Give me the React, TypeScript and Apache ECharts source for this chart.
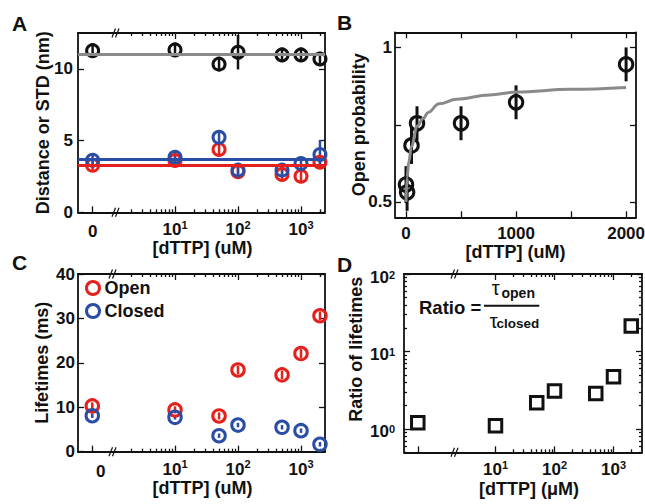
import React, { useEffect, useRef } from 'react';
import * as echarts from 'echarts';

const FONT = "'Liberation Sans', Arial, Helvetica, sans-serif";
const BLACK = '#111111';
const RED = '#e4211c';
const BLUE = '#2a4da6';
const GRAY = '#8a8a8a';

// shared concentrations [dTTP] (uM)
const dTTP = [0, 10, 50, 100, 500, 1000, 2000];

// Panel A: distance (black) and STD (red = open, blue = closed), nm
const distBlack = [11.27, 11.32, 10.33, 11.16, 10.97, 10.97, 10.69];
const distBlackErr = [0.5, 0.5, 0.5, 1.2, 0.5, 0.5, 0.5];
const stdRed = [3.28, 3.61, 4.38, 2.83, 2.64, 2.52, 3.49];
const stdRedErr = [0.45, 0.45, 0.45, 0.45, 0.45, 0.45, 0.45];
const stdBlue = [3.63, 3.84, 5.23, 2.94, 2.94, 3.4, 4.03];
const stdBlueErr = [0.45, 0.45, 0.45, 0.45, 0.45, 0.45, 1.0];
const fitBlack = 11.0;
const fitBlue = 3.73;
const fitRed = 3.31;

// Panel B: open probability
const openProb = [0.556, 0.531, 0.683, 0.755, 0.755, 0.823, 0.946];
const openProbErr = [0.06, 0.06, 0.06, 0.055, 0.055, 0.055, 0.055];
const fitCurveX = [0, 10, 25, 50, 100, 160, 200, 300, 460, 760, 1000, 1500, 2000];
const fitCurveY = [0.5, 0.58, 0.63, 0.68, 0.745, 0.772, 0.79, 0.818, 0.833, 0.847, 0.856, 0.865, 0.871];

// Panel C: lifetimes (ms)
const tauOpen = [10.3, 9.4, 8.04, 18.4, 17.3, 22.1, 30.6];
const tauOpenErr = [0.8, 0.8, 0.8, 1.0, 1.0, 1.0, 1.0];
const tauClosed = [8.1, 7.74, 3.6, 6.0, 5.5, 4.73, 1.67];
const tauClosedErr = [0.5, 0.5, 0.5, 0.5, 0.5, 0.5, 0.5];

// Panel D: ratio of lifetimes
const ratio = [1.2, 1.1, 2.18, 3.1, 2.88, 4.73, 21.3];

// ticks
const logMajorTicks = [10, 100, 1000];
const logMinorTicks = [2, 3, 4, 5, 6, 7, 8, 9, 20, 30, 40, 50, 60, 70, 80, 90, 200, 300, 400, 500, 600, 700, 800, 900, 2000];
const logMinorTicksD = [20, 30, 40, 50, 60, 70, 80, 90, 200, 300, 400, 500, 600, 700, 800, 900, 2000];
const distTicks = [0, 5, 10];
const probXTicks = [0, 500, 1000, 1500, 2000];
const probXLabels = [0, 1000, 2000];
const probYTicks = [0.5, 0.75, 1];
const probYLabels = [0.5, 1];
const lifeTicks = [0, 10, 20, 30, 40];
const ratioMajorTicks = [1, 10, 100];
const ratioMinorTicks = [0.5, 0.6, 0.7, 0.8, 0.9, 2, 3, 4, 5, 6, 7, 8, 9, 20, 30, 40, 50, 60, 70, 80, 90];

function buildOption() {
  const grid = [
    { left: 78, top: 33, width: 38, height: 179.3 }, // 0 A0
    { left: 116, top: 33, width: 209, height: 179.3 }, // 1 A1
    { left: 395, top: 32.3, width: 241, height: 185 }, // 2 B
    { left: 78, top: 274, width: 35, height: 177.7 }, // 3 C0
    { left: 113, top: 274, width: 212, height: 177.7 }, // 4 C1
    { left: 404, top: 274, width: 51, height: 178.3 }, // 5 D0
    { left: 455, top: 274, width: 187, height: 178.3 }, // 6 D1
  ].map((g) => ({ ...g, containLabel: false, outerBoundsMode: 'none' }));

  const axisLine = { show: true, onZero: false, lineStyle: { color: BLACK, width: 1.8 } };
  const noLine = { show: false, onZero: false };
  const tick = (values: number[], len: number) => ({
    show: true, inside: true, length: len, customValues: values,
    lineStyle: { color: BLACK, width: 1.3 },
  });
  const nameStyle = (pad: any = 0) => ({
    fontFamily: FONT, fontSize: 18, fontWeight: 'bold', color: BLACK, padding: pad,
  });
  const plainLabel = (values: number[], margin: number, extra: any = {}) => ({
    show: true, customValues: values, margin, fontFamily: FONT, fontSize: 17,
    fontWeight: 'bold', color: BLACK, formatter: (v: number) => String(v), ...extra,
  });
  const richX = {
    b: { fontFamily: FONT, fontSize: 17, fontWeight: 'bold', color: BLACK, lineHeight: 16, padding: [5, 0, 0, 0] },
    s: { fontFamily: FONT, fontSize: 11, fontWeight: 'bold', color: BLACK, lineHeight: 11, verticalAlign: 'top' },
  };
  const richY = {
    b: { fontFamily: FONT, fontSize: 17, fontWeight: 'bold', color: BLACK, lineHeight: 18, padding: [6, 0, 0, 0] },
    s: { fontFamily: FONT, fontSize: 11, fontWeight: 'bold', color: BLACK, lineHeight: 12, padding: [4, 0, 0, 0], verticalAlign: 'top' },
  };
  const powLabel = (values: number[], margin: number, rich: any) => ({
    show: true, customValues: values, margin, rich,
    formatter: (v: number) => `{b|10}{s|${Math.round(Math.log10(v))}}`,
  });

  const xAxis: any[] = [];
  const yAxis: any[] = [];
  const base = {
    splitLine: { show: false }, axisLabel: { show: false }, axisTick: { show: false },
    axisLine: noLine, nameMoveOverlap: false, axisPointer: { show: false },
  };
  const X = (cfg: any) => { xAxis.push({ ...base, ...cfg }); return xAxis.length - 1; };
  const Y = (cfg: any) => { yAxis.push({ ...base, ...cfg }); return yAxis.length - 1; };

  // log x axis group (bottom major with labels, bottom minor, top major, top minor)
  const logX = (gi: number, min: number, max: number, minor: number[], name: string, nameGap: number, padRight: number) => {
    const common = { type: 'log', logBase: 10, gridIndex: gi, min, max };
    const main = X({
      ...common, position: 'bottom', axisLine, axisTick: tick(logMajorTicks, 6),
      axisLabel: powLabel(logMajorTicks, 7, richX),
      name, nameLocation: 'middle', nameGap, nameTextStyle: nameStyle([0, padRight, 0, 0]),
    });
    X({ ...common, position: 'bottom', axisTick: tick(minor, 3) });
    X({ ...common, position: 'top', axisLine, axisTick: tick(logMajorTicks, 6) });
    X({ ...common, position: 'top', axisTick: tick(minor, 3) });
    return main;
  };

  // ---------- Panel A ----------
  const xA0 = X({
    type: 'value', gridIndex: 0, position: 'bottom', min: -1, max: 1.6, axisLine,
    axisTick: tick([0], 6), axisLabel: plainLabel([0], 11),
  });
  X({ type: 'value', gridIndex: 0, position: 'top', min: -1, max: 1.6, axisLine });
  const xA1 = logX(1, 1.157, 2404, logMinorTicks, '[dTTP] (uM)', 27, 36);
  const yA0 = Y({
    type: 'value', gridIndex: 0, position: 'left', min: 0, max: 12.5, axisLine,
    axisTick: tick(distTicks, 6), axisLabel: plainLabel(distTicks, 5),
    name: 'Distance or STD (nm)', nameLocation: 'middle', nameGap: 26, nameTextStyle: nameStyle(),
  });
  const yA1 = Y({
    type: 'value', gridIndex: 1, position: 'right', min: 0, max: 12.5, axisLine,
    axisTick: tick(distTicks, 6),
  });

  // ---------- Panel B ----------
  const xB = X({
    type: 'value', gridIndex: 2, position: 'bottom', min: -100, max: 2090, axisLine,
    axisTick: tick(probXTicks, 6), axisLabel: plainLabel(probXLabels, 8),
    name: '[dTTP] (uM)', nameLocation: 'middle', nameGap: 26, nameTextStyle: nameStyle(),
  });
  X({ type: 'value', gridIndex: 2, position: 'top', min: -100, max: 2090, axisLine, axisTick: tick(probXTicks, 6) });
  const yB = Y({
    type: 'value', gridIndex: 2, position: 'left', min: 0.45, max: 1.05, axisLine,
    axisTick: tick(probYTicks, 6), axisLabel: plainLabel(probYLabels, 3),
    name: 'Open probability', nameLocation: 'middle', nameGap: 27, nameTextStyle: nameStyle(),
  });
  Y({ type: 'value', gridIndex: 2, position: 'right', min: 0.45, max: 1.05, axisLine, axisTick: tick(probYTicks, 6) });

  // ---------- Panel C ----------
  const xC0 = X({
    type: 'value', gridIndex: 3, position: 'bottom', min: -1, max: 1.45, axisLine,
    axisTick: tick([0], 6), axisLabel: plainLabel([0], 11, { padding: [0, 0, 0, 17] }),
  });
  X({ type: 'value', gridIndex: 3, position: 'top', min: -1, max: 1.45, axisLine });
  const xC1 = logX(4, 1.037, 2404, logMinorTicks, '[dTTP] (uM)', 27, 33);
  const yC0 = Y({
    type: 'value', gridIndex: 3, position: 'left', min: 0, max: 40, axisLine,
    axisTick: tick(lifeTicks, 6), axisLabel: plainLabel(lifeTicks, 3),
    name: 'Lifetimes (ms)', nameLocation: 'middle', nameGap: 27, nameTextStyle: nameStyle(),
  });
  const yC1 = Y({
    type: 'value', gridIndex: 4, position: 'right', min: 0, max: 40, axisLine,
    axisTick: tick(lifeTicks, 6),
  });

  // ---------- Panel D ----------
  const xD0 = X({
    type: 'value', gridIndex: 5, position: 'bottom', min: -1, max: 2.7, axisLine,
    axisTick: tick([0], 6),
  });
  X({ type: 'value', gridIndex: 5, position: 'top', min: -1, max: 2.7, axisLine });
  const xD1 = logX(6, 2.06, 3040, logMinorTicksD, '[dTTP] (\u03bcM)', 28, 39);
  const yD0 = Y({
    type: 'log', logBase: 10, gridIndex: 5, position: 'left', min: 0.5, max: 100, axisLine,
    axisTick: tick(ratioMajorTicks, 6), axisLabel: powLabel(ratioMajorTicks, 9, richY),
    name: 'Ratio of lifetimes', nameLocation: 'middle', nameGap: 39,
    nameTextStyle: nameStyle([0, 0, 0, 28]),
  });
  Y({ type: 'log', logBase: 10, gridIndex: 5, position: 'left', min: 0.5, max: 100, axisTick: tick(ratioMinorTicks, 3) });
  const yD1 = Y({
    type: 'log', logBase: 10, gridIndex: 6, position: 'right', min: 0.5, max: 100, axisLine,
    axisTick: tick(ratioMajorTicks, 6),
  });
  Y({ type: 'log', logBase: 10, gridIndex: 6, position: 'right', min: 0.5, max: 100, axisTick: tick(ratioMinorTicks, 3) });

  // ---------- series helpers ----------
  const rows = (xs: number[], ys: number[], errs: number[] | null, zero: boolean) =>
    xs.map((c, i) => [c, ys[i], errs ? errs[i] : 0]).filter((r) => (r[0] === 0) === zero);

  const errSeries = (data: number[][], xi: number, yi: number, color: string, width: number) => ({
    type: 'custom', xAxisIndex: xi, yAxisIndex: yi, data, clip: false, silent: true,
    encode: { x: 0, y: 1 },
    renderItem: (_p: any, api: any) => {
      const x = api.value(0);
      const y = api.value(1);
      const e = api.value(2);
      const p1 = api.coord([x, y - e]);
      const p2 = api.coord([x, y + e]);
      return {
        type: 'line',
        shape: { x1: p1[0], y1: p1[1], x2: p2[0], y2: p2[1] },
        style: { stroke: color, lineWidth: width, lineCap: 'butt' },
      };
    },
  });
  const dotSeries = (name: string, data: number[][], xi: number, yi: number, color: string, symbol: string, size: number, bw: number) => ({
    type: 'scatter', name, xAxisIndex: xi, yAxisIndex: yi,
    data: data.map((r) => [r[0], r[1]]), symbol, symbolSize: size,
    itemStyle: { color: 'rgba(0,0,0,0)', borderColor: color, borderWidth: bw, opacity: 1 },
    silent: true, clip: false, emphasis: { disabled: true },
  });
  const fitLine = (value: number, xi: number, yi: number, color: string) => ({
    type: 'line', xAxisIndex: xi, yAxisIndex: yi, data: [], silent: true,
    markLine: {
      silent: true, symbol: 'none', label: { show: false }, animation: false,
      lineStyle: { color, width: 3, type: 'solid', opacity: 1 },
      emphasis: { disabled: true },
      data: [{ yAxis: value }],
    },
  });

  const series: any[] = [];
  // Panel A
  const aAxes: [number, number, boolean][] = [[xA0, yA0, true], [xA1, yA1, false]];
  aAxes.forEach(([xi, yi]) => {
    series.push(fitLine(fitBlack, xi, yi, GRAY));
    series.push(fitLine(fitBlue, xi, yi, BLUE));
    series.push(fitLine(fitRed, xi, yi, RED));
  });
  aAxes.forEach(([xi, yi, zero]) => {
    const blk = rows(dTTP, distBlack, distBlackErr, zero);
    const red = rows(dTTP, stdRed, stdRedErr, zero);
    const blu = rows(dTTP, stdBlue, stdBlueErr, zero);
    series.push(errSeries(blk, xi, yi, BLACK, 2.5));
    series.push(dotSeries('Distance', blk, xi, yi, BLACK, 'circle', 12, 3));
    series.push(errSeries(red, xi, yi, RED, 2.5));
    series.push(dotSeries('STD open', red, xi, yi, RED, 'circle', 12, 3));
    series.push(errSeries(blu, xi, yi, BLUE, 2.5));
    series.push(dotSeries('STD closed', blu, xi, yi, BLUE, 'circle', 12, 3));
  });

  // Panel B
  series.push({
    type: 'line', xAxisIndex: xB, yAxisIndex: yB, silent: true, smooth: 0.4, smoothMonotone: 'x',
    symbol: 'none', lineStyle: { color: GRAY, width: 3 },
    data: fitCurveX.map((x, i) => [x, fitCurveY[i]]),
  });
  const bRows = dTTP.map((c, i) => [c, openProb[i], openProbErr[i]]);
  series.push(errSeries(bRows, xB, yB, BLACK, 3));
  series.push(dotSeries('Open probability', bRows, xB, yB, BLACK, 'circle', 13.5, 3));

  // Panel C
  const cAxes: [number, number, boolean][] = [[xC0, yC0, true], [xC1, yC1, false]];
  cAxes.forEach(([xi, yi, zero]) => {
    const op = rows(dTTP, tauOpen, tauOpenErr, zero);
    const cl = rows(dTTP, tauClosed, tauClosedErr, zero);
    series.push(errSeries(op, xi, yi, RED, 2.5));
    series.push(dotSeries('Open', op, xi, yi, RED, 'circle', 12.5, 3));
    series.push(errSeries(cl, xi, yi, BLUE, 2.5));
    series.push(dotSeries('Closed', cl, xi, yi, BLUE, 'circle', 12.5, 3));
  });

  // Panel D
  const dAxes: [number, number, boolean][] = [[xD0, yD0, true], [xD1, yD1, false]];
  dAxes.forEach(([xi, yi, zero]) => {
    const r = rows(dTTP, ratio, null, zero);
    series.push(dotSeries('Ratio', r, xi, yi, BLACK, 'rect', 12.5, 3));
  });

  // ---------- decorations ----------
  const txt = (text: string, x: number, y: number, size: number, weight: string, align = 'left', family = FONT) => ({
    type: 'text', x, y, z: 100, silent: true,
    style: { text, fontFamily: family, fontSize: size, fontWeight: weight, fill: BLACK, align, verticalAlign: 'middle' },
  });
  const brk = (x: number, y: number) => [
    { type: 'line', z: 100, silent: true, shape: { x1: x - 4, y1: y + 4.5, x2: x - 0.5, y2: y - 4.5 }, style: { stroke: BLACK, lineWidth: 1.2 } },
    { type: 'line', z: 100, silent: true, shape: { x1: x - 0.5, y1: y + 4.5, x2: x + 3, y2: y - 4.5 }, style: { stroke: BLACK, lineWidth: 1.2 } },
  ];
  const graphic: any[] = [
    txt('A', 12, 23, 21, 'bold'),
    txt('B', 337, 22, 21, 'bold'),
    txt('C', 12, 262, 21, 'bold'),
    txt('D', 337, 264, 21, 'bold'),
    ...brk(116, 33), ...brk(116, 212.3),
    ...brk(113, 274), ...brk(113, 451.7),
    ...brk(455, 274), ...brk(455, 452.3),
    txt('Ratio =', 419, 307, 18.5, 'bold'),
    { type: 'line', z: 100, silent: true, shape: { x1: 484, y1: 305.7, x2: 539.3, y2: 305.7 }, style: { stroke: BLACK, lineWidth: 2 } },
    txt('\u03c4', 495.8, 287.5, 20, 'normal', 'center'),
    txt('open', 501.5, 292.5, 14, 'bold'),
    txt('\u03c4', 493.7, 321, 20, 'normal', 'center'),
    txt('closed', 496.5, 323.5, 13.5, 'bold'),
  ];

  return {
    animation: false,
    backgroundColor: '#ffffff',
    textStyle: { fontFamily: FONT },
    grid,
    xAxis,
    yAxis,
    legend: {
      show: true, orient: 'vertical', left: 85, top: 278, padding: 0,
      itemWidth: 13, itemHeight: 13, itemGap: 3, selectedMode: false,
      textStyle: { fontFamily: FONT, fontSize: 18, fontWeight: 'bold', color: BLACK, lineHeight: 20 },
      data: [
        { name: 'Open', icon: 'circle', itemStyle: { color: 'rgba(0,0,0,0)', borderColor: RED, borderWidth: 3 } },
        { name: 'Closed', icon: 'circle', itemStyle: { color: 'rgba(0,0,0,0)', borderColor: BLUE, borderWidth: 3 } },
      ],
    },
    series,
    graphic,
  };
}

export default function App() {
  const ref = useRef<HTMLDivElement>(null);
  useEffect(() => {
    if (!ref.current) return;
    const chart = echarts.init(ref.current, null, { renderer: 'svg', width: 645, height: 504 });
    chart.setOption(buildOption() as any);
    return () => chart.dispose();
  }, []);
  return (
    <div
      ref={ref}
      style={{ position: 'absolute', left: 0, top: 0, width: 645, height: 504, background: '#fff' }}
    />
  );
}
